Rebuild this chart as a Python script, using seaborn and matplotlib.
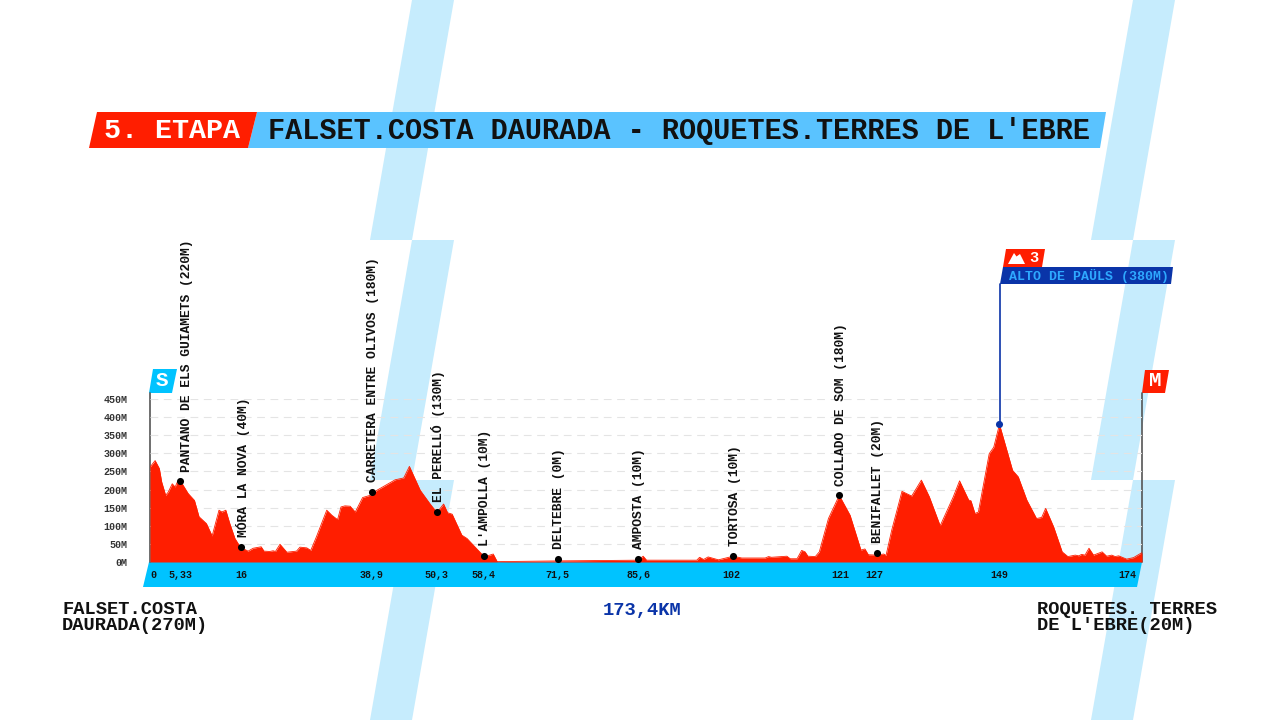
import matplotlib
matplotlib.use("Agg")
import pandas as pd
import seaborn as sns
from matplotlib import pyplot as plt
from matplotlib.transforms import ScaledTranslation

# ---- data ----
profile_km = [0, 0.9, 1.64, 2.05, 2.75, 3.2, 3.9, 4.4, 4.8, 5.33, 6.7, 7.8, 8.6, 9.9, 10.9, 12.1, 12.6, 13.3,
              14, 14.9, 15.85, 17.2, 18.1, 19.5, 20, 21, 21.6, 22, 22.8, 24, 25.7, 26.3, 27.5, 28.2, 29.2, 31,
              31.9, 32.9, 33.5, 34.2, 35.1, 36, 37.3, 38.6, 39.8, 43, 44.5, 45.5, 47.4, 49.1, 50.3, 50.9, 51.5,
              52.2, 53, 54.7, 55.6, 58.6, 59.6, 60.2, 60.9, 71.5, 85.6, 86.5, 87.1, 95.9, 96.4, 97.1, 97.9,
              99.7, 102.3, 103.8, 107.9, 108.5, 109, 111.7, 112.3, 113.5, 114.3, 114.9, 115.4, 116.7, 117.4,
              119, 120.9, 122.8, 124.7, 125.4, 126, 127.5, 128.7, 129.1, 130.1, 131.9, 133.6, 135.3, 136.7,
              138.6, 140.9, 142, 143.6, 144, 144.7, 145.3, 147.2, 148, 149, 151.3, 152.3, 153.8, 155.5, 156.4,
              157.1, 158.5, 160, 161, 162.3, 162.9, 163.4, 164, 164.7, 165.5, 167, 167.8, 168.7, 169.3, 169.9,
              171.3, 172.5, 174]
profile_m = [262, 280, 258, 221, 184, 193, 216, 207, 221, 224, 189, 170, 125, 106, 72, 143, 138, 143,
             106, 65, 41, 30, 38, 42, 30, 29, 31, 29, 49, 27, 30, 41, 39, 32, 70, 143,
             129, 117, 152, 155, 154, 138, 178, 184, 198, 227, 232, 264, 198, 161, 137, 148, 160,
             136, 132, 74, 65, 15, 19, 22, 1, 3, 5, 16, 5, 5, 13, 7, 14,
             6, 16, 11, 11, 15, 13, 16, 9, 9, 32, 28, 16, 15, 28,
             120, 184, 129, 33, 36, 20, 19, 22, 18, 88, 195, 182, 226, 180,
             100, 180, 224, 171, 169, 134, 138, 299, 317, 380, 253, 235, 171, 120, 123,
             148, 97, 28, 15, 19, 17, 21, 19, 38, 19, 28, 16, 19, 15, 17,
             8, 12, 26]

pass_names = ["PANTANO DE ELS GUIAMETS (220M)", "MÓRA LA NOVA (40M)", "CARRETERA ENTRE OLIVOS (180M)",
              "EL PERELLÓ (130M)", "L'AMPOLLA (10M)", "DELTEBRE (0M)", "AMPOSTA (10M)", "TORTOSA (10M)",
              "COLLADO DE SOM (180M)", "BENIFALLET (20M)"]
pass_km = [5.33, 16, 38.9, 50.3, 58.6, 71.5, 85.6, 102.3, 120.9, 127.5]
pass_m = [223, 41, 193, 138, 16, 8, 8, 16, 184, 25]

km_ticks = [0, 5.33, 16, 38.9, 50.3, 58.4, 71.5, 85.6, 102, 121, 127, 149, 174]
km_labels = ["0", "5,33", "16", "38,9", "50,3", "58,4", "71,5", "85,6", "102", "121", "127", "149", "174"]
alt_ticks = [0, 50, 100, 150, 200, 250, 300, 350, 400, 450]
alt_labels = ["0M", "50M", "100M", "150M", "200M", "250M", "300M", "350M", "400M", "450M"]

kom_km = [149]
kom_m = [380]

RED = "#FF1E00"
CYAN = "#00C3FF"
HEADER = "#5AC3FF"
STRIPE = "#C6ECFD"
NAVY = "#0A34A8"
INK = "#111111"
MONO = "Liberation Mono"

sns.set_theme(style="white")
plt.rcParams["font.family"] = [MONO, "DejaVu Sans Mono"]
plt.rcParams["font.weight"] = "bold"

fig = plt.figure(figsize=(12.8, 7.2), dpi=100, facecolor="white")

# background layer works in picture pixels
bg = fig.add_axes([0, 0, 1, 1])
bg.set_xlim(0, 1280)
bg.set_ylim(720, 0)
bg.axis("off")

# slanted stripes
for shift in (0, 721):
    for top in (0, 240, 480):
        bg.fill([412 + shift, 454 + shift, 412 + shift, 370 + shift], [top, top, top + 240, top + 240],
                color=STRIPE, lw=0)

# title bar
bg.fill([257, 1106, 1100, 248], [112, 112, 148, 148], color=HEADER, lw=0)
bg.fill([97, 257, 248, 89], [112, 112, 148, 148], color=RED, lw=0)
bg.text(172, 131, "5. ETAPA", color="white", fontsize=20.4, ha="center", va="center")
bg.text(678.5, 131, "FALSET.COSTA DAURADA - ROQUETES.TERRES DE L'EBRE", color=INK, fontsize=20.55,
        ha="center", va="center")

# km band under the profile
bg.fill([149, 1142, 1137, 143], [562, 562, 587, 587], color=CYAN, lw=0)

# start / finish posts and flags
bg.plot([150, 150], [393, 562], color="#555555", lw=1.2)
bg.plot([1142, 1142], [393, 562], color="#555555", lw=1.2)
bg.fill([153, 177, 172, 149], [369, 369, 393, 393], color=CYAN, lw=0)
bg.text(162, 381, "S", color="white", fontsize=15, ha="center", va="center")
bg.fill([1145, 1169, 1165, 1142], [370, 370, 393, 393], color=RED, lw=0)
bg.text(1155, 381, "M", color="white", fontsize=15, ha="center", va="center")

# climb label
bg.plot([999.5, 999.5], [284, 425], color=NAVY, lw=1.2)
bg.fill([1003, 1173, 1171, 1000], [267, 267, 284, 284], color=NAVY, lw=0)
bg.text(1009, 276, "ALTO DE PAÜLS (380M)", color="#2EA8FF", fontsize=9.55, ha="left", va="center")
bg.fill([1006, 1045, 1042, 1003], [249, 249, 267, 267], color=RED, lw=0)
bg.fill([1008, 1014, 1016.5, 1020, 1025, 1008], [264, 253, 256.5, 254, 264, 264], color="white", lw=0)
bg.text(1034, 258, "3", color="white", fontsize=11, ha="center", va="center")

# place names under the band
bg.text(62, 610, "FALSET.COSTA", color=INK, fontsize=13.5, ha="left", va="center")
bg.text(62, 625, "DAURADA(270M)", color=INK, fontsize=13.5, ha="left", va="center")
bg.text(1037, 610, "ROQUETES. TERRES", color=INK, fontsize=13.5, ha="left", va="center")
bg.text(1037, 625, "DE L'EBRE(20M)", color=INK, fontsize=13.5, ha="left", va="center")
bg.text(642, 610, "173,4KM", color=NAVY, fontsize=13.5, ha="center", va="center")

# ---- profile axes: km 0-174 and 0-450 m, lined up with the band ----
ax = fig.add_axes([150 / 1280, (720 - 562) / 720, 992 / 1280, 163 / 720])
ax.patch.set_alpha(0)
ax.set_xlim(0, 174)
ax.set_ylim(0, 450)

profile_df = pd.DataFrame({"km": profile_km, "m": profile_m})
passes_df = pd.DataFrame({"km": pass_km, "m": pass_m})
kom_df = pd.DataFrame({"km": kom_km, "m": kom_m})

ax.fill_between(profile_km, profile_m, 0, color=RED, lw=0, zorder=2)
sns.lineplot(data=profile_df, x="km", y="m", color=RED, lw=0.6, estimator=None, ax=ax, zorder=2)
sns.scatterplot(data=passes_df, x="km", y="m", color="black", s=26, linewidth=0, ax=ax, zorder=4, clip_on=False)
sns.scatterplot(data=kom_df, x="km", y="m", color=NAVY, s=26, linewidth=0, ax=ax, zorder=4, clip_on=False)

for name, km, m in zip(pass_names, pass_km, pass_m):
    dx = 4.5 if km == pass_km[0] else 1
    ax.annotate(name, xy=(km, m), xytext=(dx, 7), textcoords="offset points", rotation=90,
                ha="center", va="bottom", color=INK, fontsize=9.4, zorder=5)

ax.set_xlabel("")
ax.set_ylabel("")
ax.set_xticks(km_ticks, km_labels, fontsize=7.2, color=INK)
ax.set_yticks(alt_ticks, alt_labels, fontsize=7.2, color="#333333")
ax.tick_params(axis="x", length=0, pad=6)
ax.tick_params(axis="y", length=0, pad=16)
ax.yaxis.grid(True, color="#E4E4E4", lw=0.8, ls=(0, (7, 5)), zorder=0)
ax.set_axisbelow(True)
sns.despine(ax=ax, left=True, bottom=True)

# first and last km labels sit inside the band
xlabels = ax.get_xticklabels()
xlabels[0].set_ha("left")
xlabels[-1].set_ha("right")
xlabels[-1].set_transform(xlabels[-1].get_transform() + ScaledTranslation(-0.06, 0, fig.dpi_scale_trans))

fig.savefig("out.png", dpi=100)
